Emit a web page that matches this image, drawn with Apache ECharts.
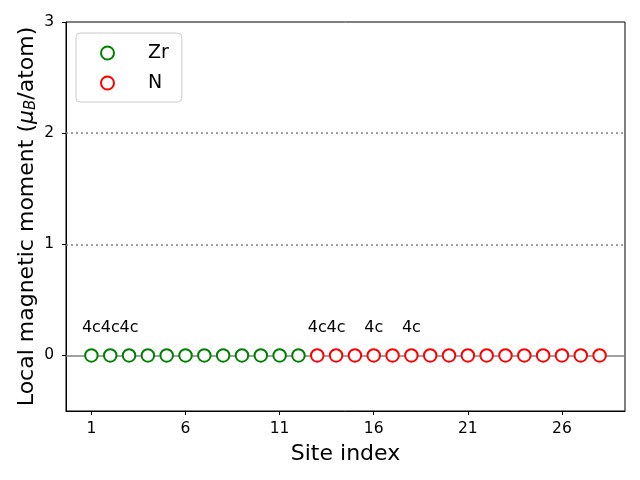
<!DOCTYPE html>
<html>
<head>
<meta charset="utf-8">
<script src="https://cdn.jsdelivr.net/npm/echarts@6/dist/echarts.min.js"></script>
<style>html,body{margin:0;padding:0;background:#fff;}#c{width:640px;height:480px;}</style>
</head>
<body>
<div id="c"></div>
<script>
// Data
const zrSites = [1,2,3,4,5,6,7,8,9,10,11,12];
const zrMoments = [0,0,0,0,0,0,0,0,0,0,0,0];
const nSites = [13,14,15,16,17,18,19,20,21,22,23,24,25,26,27,28];
const nMoments = [0,0,0,0,0,0,0,0,0,0,0,0,0,0,0,0];
const labelSites = [1,2,3,13,14,16,18];
const labelTexts = ['4c','4c','4c','4c','4c','4c','4c'];
const labelY = 0.2;
const xTicks = [1,6,11,16,21,26];
const yTicks = [0,1,2,3];
const refLines = [1,2];

const font = 'DejaVu Sans';
const chart = echarts.init(document.getElementById('c'), null, {renderer:'canvas'});

const zrData = zrSites.map((s,i)=>[s, zrMoments[i]]);
const nData = nSites.map((s,i)=>[s, nMoments[i]]);
const lblData = labelSites.map((s,i)=>({value:[s,labelY], label:{formatter:labelTexts[i]}}));

chart.setOption({
  animation:false,
  backgroundColor:'#fff',
  grid:{left:66, right:15, top:22, bottom:69, show:true, borderColor:'#000', borderWidth:1, backgroundColor:'transparent'},
  legend:{
    left:76, top:33, orient:'vertical',
    data:['Zr','N'],
    itemWidth:13, itemHeight:13, itemGap:8,
    padding:[9,13,8,24],
    borderColor:'#cccccc', borderWidth:1, borderRadius:4,
    backgroundColor:'rgba(255,255,255,0.8)',
    textStyle:{fontFamily:font, fontSize:19, color:'#000', padding:[0,0,0,29], lineHeight:22}
  },
  xAxis:{
    type:'value', min:-0.35, max:29.35,
    name:'Site index', nameLocation:'middle', nameGap:32,
    nameTextStyle:{fontFamily:font, fontSize:22, color:'#000'},
    axisLine:{show:true, onZero:false, lineStyle:{color:'#000', width:1}},
    axisTick:{show:true, inside:false, length:4, customValues:xTicks, lineStyle:{color:'#000'}},
    axisLabel:{customValues:xTicks, fontFamily:font, fontSize:15.5, color:'#000', margin:10},
    splitLine:{show:false}
  },
  yAxis:{
    type:'value', min:-0.5, max:3,
    name:'{n|Local magnetic moment (}{i|μ}{s|B}{n|/atom)}', nameLocation:'middle', nameGap:27,
    nameMoveOverlap:false,
    nameTextStyle:{fontFamily:font, fontSize:22, color:'#000',
      rich:{
        n:{fontFamily:font, fontSize:22, color:'#000'},
        i:{fontFamily:font, fontSize:22, fontStyle:'italic', color:'#000'},
        s:{fontFamily:font, fontSize:15, fontStyle:'italic', color:'#000', padding:[8,0,0,0]}
      }},
    axisLine:{show:true, onZero:false, lineStyle:{color:'#000', width:1}},
    axisTick:{show:true, inside:false, length:4, customValues:yTicks, lineStyle:{color:'#000'}},
    axisLabel:{customValues:yTicks, fontFamily:font, fontSize:15.5, color:'#000', margin:12},
    splitLine:{show:false}
  },
  series:[
    {
      name:'Zr', type:'scatter', data:zrData, symbol:'emptyCircle', symbolSize:12.5, z:5,
      itemStyle:{color:'#008000', borderColor:'#008000', borderWidth:1, opacity:1},
      markLine:{
        silent:true, symbol:'none', label:{show:false}, animation:false,
        data:[{yAxis:0, lineStyle:{type:'solid', color:'#808080', width:1.5}}].concat(
          refLines.map(v=>({yAxis:v, lineStyle:{type:[2,3], color:'#808080', width:1.5}})))
      }
    },
    {
      name:'N', type:'scatter', data:nData, symbol:'emptyCircle', symbolSize:12.5, z:5,
      itemStyle:{color:'#ff0000', borderColor:'#ff0000', borderWidth:1, opacity:1}
    },
    {
      name:'labels', type:'scatter', data:lblData, symbolSize:0, silent:true, z:6,
      itemStyle:{opacity:1},
      label:{show:true, position:'top', distance:-3, fontFamily:font, fontSize:16, color:'#000'}
    }
  ]
});
</script>
</body>
</html>
